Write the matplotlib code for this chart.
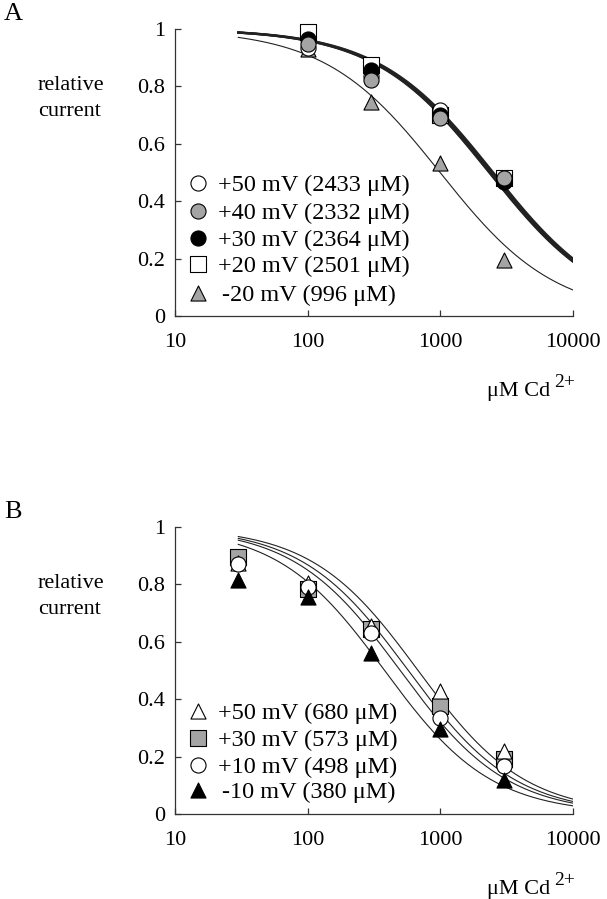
import numpy as np
import matplotlib
matplotlib.use("Agg")
import matplotlib.pyplot as plt

plt.rcParams['font.family'] = ['Liberation Serif', 'DejaVu Serif']

# ---------------- data ----------------
conc_A = [100, 300, 1000, 3000]
A_p50 = [0.935, 0.835, 0.718, 0.470]
A_p40 = [0.948, 0.822, 0.690, 0.480]
A_p30 = [0.965, 0.857, 0.700, 0.467]
A_p20 = [0.990, 0.873, 0.700, 0.480]
A_m20 = [0.930, 0.747, 0.533, 0.195]
labels_A = ["+50 mV (2433 \u03bcM)", "+40 mV (2332 \u03bcM)", "+30 mV (2364 \u03bcM)",
            "+20 mV (2501 \u03bcM)", "-20 mV (996 \u03bcM)"]
ic50_A = [2433, 2332, 2364, 2501, 996]
hill_A = 1.0

conc_B = [30, 100, 300, 1000, 3000]
B_p50 = [0.875, 0.805, 0.655, 0.430, 0.218]
B_p30 = [0.895, 0.785, 0.645, 0.375, 0.193]
B_p10 = [0.870, 0.790, 0.632, 0.335, 0.168]
B_m10 = [0.815, 0.755, 0.560, 0.295, 0.118]
labels_B = ["+50 mV (680 \u03bcM)", "+30 mV (573 \u03bcM)", "+10 mV (498 \u03bcM)",
            "-10 mV (380 \u03bcM)"]
ic50_B = [680, 573, 498, 380]
hill_B = 1.08

curve_range = (30, 10000)
xticks = [10, 100, 1000, 10000]
xticklabels = ["10", "100", "1000", "10000"]
yticks = [0, 0.2, 0.4, 0.6, 0.8, 1.0]
yticklabels = ["0", "0.2", "0.4", "0.6", "0.8", "1"]

# ---------------- layout helpers ----------------
W, H = 607, 899
fig = plt.figure(figsize=(W / 100, H / 100), dpi=100)

def fx(px):
    return px / W

def fy(py):
    return 1 - py / H

GRAY = '#a4a4a4'
ms = 118
styles_A = [
    dict(marker='o', facecolor='white', edgecolor='black', z=4),
    dict(marker='o', facecolor=GRAY, edgecolor='black', z=6),
    dict(marker='o', facecolor='black', edgecolor='black', z=5),
    dict(marker='s', facecolor='white', edgecolor='black', z=3),
    dict(marker='^', facecolor=GRAY, edgecolor='black', z=2),
]
styles_B = [
    dict(marker='^', facecolor='white', edgecolor='black', z=4),
    dict(marker='s', facecolor=GRAY, edgecolor='black', z=3),
    dict(marker='o', facecolor='white', edgecolor='black', z=5),
    dict(marker='^', facecolor='black', edgecolor='black', z=6),
]

def hill(x, ic50, n):
    return 1.0 / (1.0 + (x / ic50) ** n)

def setup_axes(ax):
    ax.set_xscale('log')
    ax.set_xlim(10, 10000)
    ax.set_ylim(0, 1)
    ax.spines['top'].set_visible(False)
    ax.spines['right'].set_visible(False)
    for s in ('left', 'bottom'):
        ax.spines[s].set_linewidth(0.9)
        ax.spines[s].set_color('#333333')
    ax.set_xticks(xticks)
    ax.set_xticklabels(xticklabels)
    ax.xaxis.set_minor_locator(matplotlib.ticker.NullLocator())
    ax.set_yticks(yticks)
    ax.set_yticklabels(yticklabels)
    ax.tick_params(axis='x', direction='in', length=4, width=0.9, pad=12, labelsize=16, color='#333333')
    ax.tick_params(axis='y', direction='in', length=4, width=0.9, pad=7, labelsize=16, color='#333333')

panels = [
    dict(letter='A', off=0, conc=conc_A, series=[A_p50, A_p40, A_p30, A_p20, A_m20],
         labels=labels_A, ic50=ic50_A, hill=hill_A, styles=styles_A,
         leg_y=[183, 211, 238, 264, 293], leg_tx=[218, 218, 218, 218, 222]),
    dict(letter='B', off=498, conc=conc_B, series=[B_p50, B_p30, B_p10, B_m10],
         labels=labels_B, ic50=ic50_B, hill=hill_B, styles=styles_B,
         leg_y=[711, 738, 765, 790], leg_tx=[218, 218, 218, 222]),
]

x_left, x_right = 175, 573
for p in panels:
    off = p['off']
    bottom = 316 + off
    ax = fig.add_axes([fx(x_left), fy(bottom), (x_right - x_left) / W, 287 / H])
    setup_axes(ax)

    xc = np.logspace(np.log10(curve_range[0]), np.log10(curve_range[1]), 300)
    for i, ic in enumerate(p['ic50']):
        if p['letter'] == 'A':
            lw = 1.6 if i < 4 else 0.8
        else:
            lw = 0.8
        ax.plot(xc, hill(xc, ic, p['hill']), color='#222222', lw=lw, zorder=1)

    for vals, st in zip(p['series'], p['styles']):
        ax.scatter(p['conc'], vals, s=ms, marker=st['marker'], facecolor=st['facecolor'],
                   edgecolor=st['edgecolor'], linewidths=0.8, zorder=st['z'], clip_on=False)

    # legend entries
    for lab, st, ly, tx in zip(p['labels'], p['styles'], p['leg_y'], p['leg_tx']):
        ax.scatter([(198 - x_left) / (x_right - x_left)], [(bottom - ly) / 287], s=ms,
                   marker=st['marker'], facecolor=st['facecolor'], edgecolor=st['edgecolor'],
                   linewidths=0.8, transform=ax.transAxes, clip_on=False, zorder=7)
        ax.text((tx - x_left) / (x_right - x_left), (bottom - ly) / 287, lab, fontsize=17.5,
                ha='left', va='center_baseline', transform=ax.transAxes)

    # panel letter
    fig.text(fx(4), fy(20 + off), p['letter'], fontsize=19, ha='left', va='baseline')
    # y label
    fig.text(fx(38), fy(90 + off), 'relative', fontsize=16, ha='left', va='baseline')
    fig.text(fx(38), fy(116 + off), 'current', fontsize=16, ha='left', va='baseline')
    # x label
    t = fig.text(fx(550), fy(396 + off), '\u03bcM Cd', fontsize=16, ha='right', va='baseline')
    ax.annotate('2+', xy=(1.0, 0.0), xycoords=t, xytext=(3, 10), textcoords='offset points',
                fontsize=14, ha='left', va='baseline', annotation_clip=False)

fig.savefig('out.png', dpi=100)
